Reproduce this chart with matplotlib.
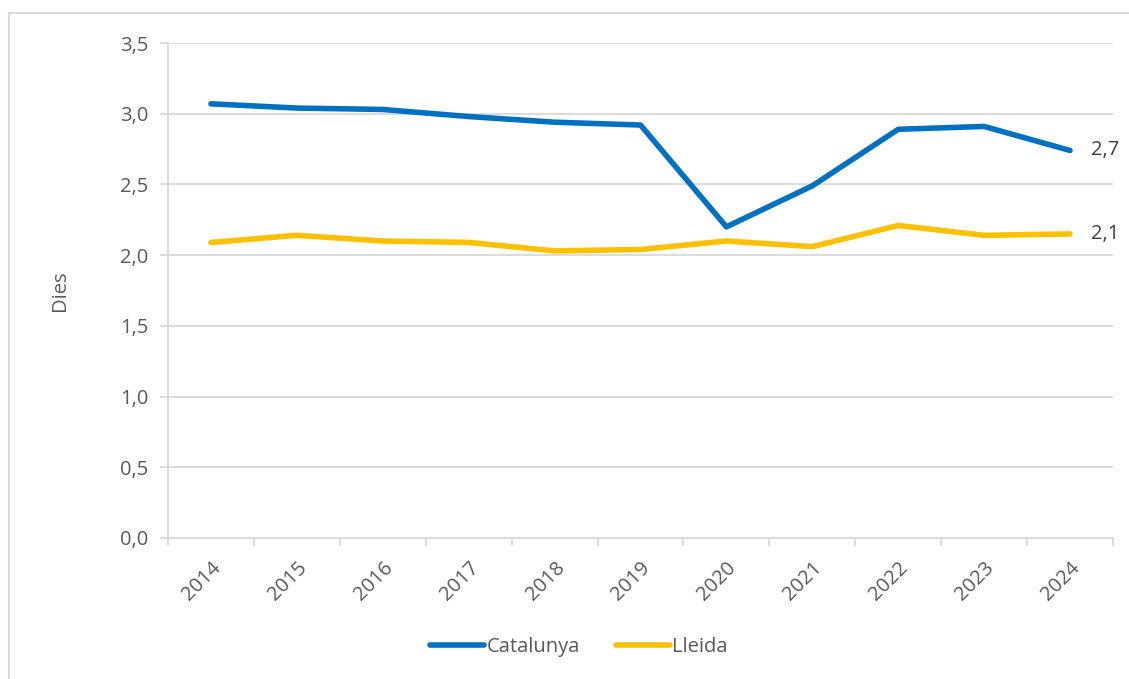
import matplotlib.pyplot as plt
from matplotlib.lines import Line2D

# data
years = ['2014', '2015', '2016', '2017', '2018', '2019', '2020', '2021', '2022', '2023', '2024']
catalunya = [3.07, 3.04, 3.03, 2.98, 2.94, 2.92, 2.20, 2.49, 2.89, 2.91, 2.74]
lleida = [2.09, 2.14, 2.10, 2.09, 2.03, 2.04, 2.10, 2.06, 2.21, 2.14, 2.15]
end_labels = ['2,7', '2,1']

W, H = 1129, 679
text_col = '#595959'
grid_col = '#d9d9d9'
fs = 14.5
plt.rcParams['font.family'] = ['Open Sans', 'DejaVu Sans']

fig = plt.figure(figsize=(W / 100, H / 100), dpi=100)
ax = fig.add_axes([168 / W, 1 - 538 / H, (1113 - 168) / W, (538 - 43) / H])

x = list(range(len(years)))
ax.plot(x, catalunya, color='#0070c0', lw=4.0, solid_capstyle='round', solid_joinstyle='round', label='Catalunya')
ax.plot(x, lleida, color='#ffc000', lw=4.0, solid_capstyle='round', solid_joinstyle='round', label='Lleida')

ax.annotate(end_labels[0], (x[-1], catalunya[-1]), xytext=(15, 0), textcoords='offset points',
            va='center', ha='left', fontsize=fs, color='#404040')
ax.annotate(end_labels[1], (x[-1], lleida[-1]), xytext=(15, 0), textcoords='offset points',
            va='center', ha='left', fontsize=fs, color='#404040')

ax.set_xlim(-0.5, len(years) - 0.5)
ax.set_ylim(0, 3.5)
yt = [0, 0.5, 1.0, 1.5, 2.0, 2.5, 3.0, 3.5]
ax.set_yticks(yt)
ax.set_yticklabels([f'{v:.1f}'.replace('.', ',') for v in yt])
ax.set_xticks(x)
ax.set_xticklabels(years, rotation=45, ha='right', rotation_mode='anchor')
ax.set_xticks([i - 0.5 for i in range(len(years) + 1)], minor=True)
ax.tick_params(axis='x', which='major', length=0, pad=14, labelsize=fs, labelcolor=text_col)
ax.tick_params(axis='x', which='minor', length=6, color=grid_col, width=1.3)
ax.tick_params(axis='y', length=6, color=grid_col, width=1.3, labelsize=fs, labelcolor=text_col, pad=8)
ax.grid(axis='y', color=grid_col, lw=1.3)
ax.set_axisbelow(True)
for s in ['top', 'right']:
    ax.spines[s].set_visible(False)
for s in ['left', 'bottom']:
    ax.spines[s].set_color(grid_col)
    ax.spines[s].set_linewidth(1.3)

ax.set_ylabel('Dies', fontsize=fs, color=text_col, labelpad=36)

fig.legend(loc='center', bbox_to_anchor=(579 / W, 1 - 647 / H), ncol=2, frameon=False,
           fontsize=fs, labelcolor=text_col, handlelength=2.7, handletextpad=0.1, columnspacing=1.8)

# outer chart border (only top and left visible)
fig.add_artist(Line2D([9 / W, 1], [1 - 13 / H, 1 - 13 / H], color=grid_col, lw=1.5))
fig.add_artist(Line2D([9 / W, 9 / W], [0, 1 - 13 / H], color=grid_col, lw=1.5))

fig.savefig('out.png', dpi=100, facecolor='white')
